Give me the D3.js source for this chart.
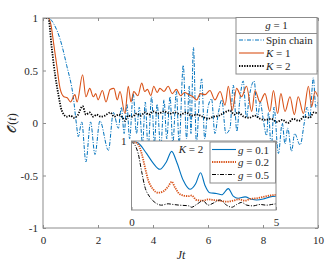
<!DOCTYPE html>
<html>
<head>
<meta charset="utf-8">
<script src="https://cdn.jsdelivr.net/npm/d3@7"></script>
<style>
  body { margin: 0; background: #fff; }
  text { font-family: "Liberation Serif", "DejaVu Serif", serif; fill: #262626; }
</style>
</head>
<body>
<svg id="chart" width="334" height="262"></svg>
<script>
// main panel, g = 1
const xTicks = [0, 2, 4, 6, 8, 10];
const yTicks = [-1, -0.5, 0, 0.5, 1];

const spinT = [0, 0.19, 0.4, 0.62, 0.86, 1.1, 1.22, 1.28, 1.41, 1.56, 1.73, 1.89, 2.07, 2.38, 2.56, 2.74, 2.85, 2.95, 3.05, 3.15,
  3.28, 3.4, 3.5, 3.62, 3.72, 3.82, 3.95, 4.05, 4.15, 4.28, 4.4, 4.5, 4.62, 4.72, 4.85, 4.95, 5.1, 5.22, 5.32, 5.38,
  5.47, 5.58, 5.68, 5.77, 5.88, 6.0, 6.13, 6.25, 6.38, 6.5, 6.65, 6.8, 6.92, 7.05, 7.15, 7.28, 7.4, 7.5, 7.68, 7.8,
  7.9, 8.0, 8.13, 8.2, 8.3, 8.4, 8.56, 8.7, 8.8, 8.9, 9.04, 9.15, 9.35, 9.5, 9.6, 9.7, 9.83, 9.92, 10];
const spinV = [1, 1, 0.94, 0.8, 0.55, 0.25, -0.02, -0.13, 0.01, -0.37, 0.01, -0.3, 0.02, -0.26, 0.1, -0.05, 0.15, -0.1, 0.18, -0.15,
  0.28, -0.1, 0.15, -0.2, 0.2, -0.25, 0.25, -0.2, 0.18, -0.25, 0.22, -0.15, 0.25, -0.2, 0.3, -0.2, 0.55, -0.15, 0.35, -0.1,
  0.72, -0.2, 0.2, 0.42, -0.15, 0.15, 0.23, -0.1, 0.1, 0.22, -0.1, -0.05, 0.36, -0.08, 0.2, 0.4, 0.05, 0.25, 0.4, 0.05,
  0.2, 0.05, -0.12, 0.1, -0.25, 0.15, -0.29, 0, -0.2, -0.05, -0.27, -0.1, -0.21, 0, 0.15, 0.05, 0.43, 0.15, 0.2];

const k1T = [0, 0.19, 0.3, 0.38, 0.5, 0.62, 0.76, 0.88, 1.0, 1.16, 1.24, 1.44, 1.56, 1.7, 1.83, 1.92, 2.0, 2.16, 2.29, 2.44,
  2.58, 2.7, 2.8, 2.98, 3.1, 3.2, 3.3, 3.45, 3.59, 3.7, 3.8, 3.92, 4.03, 4.15, 4.25, 4.4, 4.55, 4.7, 4.85, 5.0,
  5.15, 5.3, 5.45, 5.59, 5.72, 5.89, 6.07, 6.25, 6.44, 6.62, 6.74, 6.88, 7.04, 7.22, 7.4, 7.59, 7.71, 7.89, 8.07, 8.25,
  8.38, 8.53, 8.65, 8.8, 8.98, 9.14, 9.28, 9.47, 9.65, 9.77, 9.89, 10];
const k1V = [1, 1, 0.92, 0.77, 0.55, 0.33, 0.25, 0.24, 0.2, 0.27, 0.2, 0.46, 0.25, 0.33, 0.25, 0.28, 0.22, 0.31, 0.2, 0.32,
  0.33, 0.22, 0.3, 0.09, 0.35, 0.2, 0.3, 0.26, 0.38, 0.3, 0.32, 0.26, 0.35, 0.29, 0.33, 0.3, 0.35, 0.28, 0.32, 0.26,
  0.29, 0.27, 0.25, 0.22, 0.28, 0.27, 0.31, 0.22, 0.3, 0.17, 0.35, 0.12, 0.33, 0.25, 0.35, 0.11, 0.31, 0.2, 0.28, 0.11,
  0.31, 0.09, 0.28, 0.11, 0.25, 0.08, 0.25, 0.09, 0.35, 0.155, 0.3, 0.25];

const k2T = [0, 0.19, 0.32, 0.44, 0.56, 0.68, 0.87, 1.0, 1.12, 1.25, 1.44, 1.56, 1.7, 1.83, 1.95, 2.1, 2.25, 2.44, 2.6, 2.75,
  2.9, 2.98, 3.1, 3.25, 3.4, 3.55, 3.7, 3.85, 4.0, 4.2, 4.4, 4.6, 4.8, 5.0, 5.2, 5.4, 5.6, 5.8, 6.0, 6.2,
  6.4, 6.6, 6.8, 6.95, 7.1, 7.3, 7.5, 7.7, 7.9, 8.1, 8.3, 8.5, 8.7, 8.9, 9.1, 9.3, 9.5, 9.7, 9.85, 10];
const k2V = [1, 1, 0.71, 0.46, 0.27, 0.12, 0.06, 0.07, 0.05, 0.07, 0.16, 0.08, 0.1, 0.06, 0.08, 0.06, 0.07, 0.1, 0.06, 0.08,
  0.05, 0.02, 0.07, 0.06, 0.09, 0.07, 0.1, 0.08, 0.11, 0.09, 0.11, 0.09, 0.1, 0.08, 0.1, 0.07, 0.08, 0.06, 0.04, 0.06,
  0.07, 0.1, 0.12, 0.08, 0.1, 0.06, 0.05, 0.07, 0.04, 0.03, 0.04, 0.01, 0.03, 0, 0.04, 0.02, 0.06, 0.05, 0.1, 0.09];

// inset, K = 2
const g1T = [0, 0.23, 0.52, 0.75, 0.98, 1.21, 1.39, 1.56, 1.79, 2.02, 2.22, 2.39, 2.54, 2.71, 2.94, 3.12, 3.35, 3.52, 3.69, 3.93,
  4.16, 4.33, 4.56, 4.79, 5];
const g1V = [1, 0.97, 0.82, 0.68, 0.59, 0.7, 0.85, 0.7, 0.43, 0.3, 0.38, 0.54, 0.36, 0.25, 0.24, 0.22, 0.31, 0.2, 0.17, 0.19,
  0.155, 0.145, 0.16, 0.19, 0.2];
const g2T = [0, 0.23, 0.35, 0.46, 0.58, 0.75, 0.92, 1.1, 1.27, 1.39, 1.5, 1.67, 1.98, 2.08, 2.25, 2.48, 2.65, 2.83, 3.06, 3.29,
  3.52, 3.7, 3.93, 4.1, 4.33, 4.56, 4.79, 5];
const g2V = [1, 0.95, 0.82, 0.63, 0.43, 0.3, 0.25, 0.27, 0.34, 0.41, 0.33, 0.23, 0.2, 0.21, 0.145, 0.135, 0.155, 0.145, 0.135, 0.12,
  0.135, 0.155, 0.135, 0.16, 0.17, 0.19, 0.21, 0.22];
const g5T = [0, 0.23, 0.35, 0.46, 0.63, 0.81, 1.04, 1.27, 1.44, 1.67, 1.98, 2.08, 2.25, 2.48, 2.65, 2.83, 3.06, 3.29, 3.47, 3.64,
  3.81, 3.99, 4.21, 4.45, 4.68, 4.85, 5];
const g5V = [1, 0.82, 0.56, 0.34, 0.19, 0.11, 0.07, 0.09, 0.08, 0.07, 0.06, 0.04, 0.08, 0.135, 0.07, 0.1, 0.145, 0.07, 0.04, 0.08,
  0.11, 0.07, 0.06, 0.08, 0.07, 0.08, 0.09];

const mainSeries = [
  { name: 'Spin chain', t: spinT, v: spinV, color: '#0072BD', width: 1, dash: '4,1.5,1,1.5' },
  { name: 'K = 1', t: k1T, v: k1V, color: '#D95319', width: 1.1, dash: null },
  { name: 'K = 2', t: k2T, v: k2V, color: '#000', width: 1.8, dash: '1.3,1.3' }
];
const insetSeries = [
  { name: 'g = 0.1', t: g1T, v: g1V, color: '#0072BD', width: 1.1, dash: null },
  { name: 'g = 0.2', t: g2T, v: g2V, color: '#D95319', width: 1.8, dash: '1.3,1' },
  { name: 'g = 0.5', t: g5T, v: g5V, color: '#000', width: 1, dash: '4,1.5,1,1.5' }
];

const boxColor = '#8c8c8c';
const svg = d3.select('#chart');

const x = d3.scaleLinear().domain([0, 10]).range([43, 318]);
const y = d3.scaleLinear().domain([-1, 1]).range([228, 18]);

svg.append('clipPath').attr('id', 'clipMain')
  .append('rect').attr('x', 43).attr('y', 18).attr('width', 275).attr('height', 210);

function drawAxes(g, xs, ys, xt, yt, fmtX, fmtY) {
  let x0 = xs.range()[0], x1 = xs.range()[1], y0 = ys.range()[0], y1 = ys.range()[1];
  g.append('g').attr('transform', 'translate(0,' + y0 + ')')
    .call(d3.axisBottom(xs).tickValues(xt).tickSize(-3).tickPadding(8).tickFormat(fmtX));
  g.append('g').attr('transform', 'translate(0,' + y1 + ')')
    .call(d3.axisTop(xs).tickValues(xt).tickSize(-3).tickFormat(''));
  g.append('g').attr('transform', 'translate(' + x0 + ',0)')
    .call(d3.axisLeft(ys).tickValues(yt).tickSize(-3).tickPadding(5).tickFormat(fmtY));
  g.append('g').attr('transform', 'translate(' + x1 + ',0)')
    .call(d3.axisRight(ys).tickValues(yt).tickSize(-3).tickFormat(''));
  g.selectAll('.domain').remove();
  g.selectAll('.tick line').attr('stroke', boxColor);
  g.selectAll('.tick text').attr('font-size', 11).attr('fill', '#262626')
    .style('font-family', '"Liberation Serif", serif');
  g.append('rect').attr('x', x0).attr('y', y1).attr('width', x1 - x0).attr('height', y0 - y1)
    .attr('fill', 'none').attr('stroke', boxColor).attr('stroke-width', 1);
}

function drawLines(g, xs, ys, series, clip) {
  series.forEach(function (s) {
    let pts = s.t.map(function (t, i) { return [t, s.v[i]]; });
    let line = d3.line().curve(d3.curveMonotoneX)
      .x(function (d) { return xs(d[0]); })
      .y(function (d) { return ys(d[1]); });
    g.append('path').datum(pts)
      .attr('d', line)
      .attr('fill', 'none')
      .attr('stroke', s.color)
      .attr('stroke-width', s.width)
      .attr('stroke-dasharray', s.dash)
      .attr('clip-path', clip);
  });
}

function legendLabel(textSel, s) {
  // italic variable, upright rest
  let parts = s.split(' = ');
  if (parts.length === 2) {
    textSel.append('tspan').attr('font-style', 'italic').text(parts[0]);
    textSel.append('tspan').text(' = ' + parts[1]);
  } else {
    textSel.text(s);
  }
}

function drawLegend(g, series, x0, y0, w, h, rows, sampleX, sampleW, textX) {
  g.append('rect').attr('x', x0).attr('y', y0).attr('width', w).attr('height', h)
    .attr('fill', '#fff').attr('stroke', boxColor).attr('stroke-width', 1);
  series.forEach(function (s, i) {
    g.append('line')
      .attr('x1', sampleX).attr('x2', sampleX + sampleW)
      .attr('y1', rows[i]).attr('y2', rows[i])
      .attr('stroke', s.color).attr('stroke-width', s.width)
      .attr('stroke-dasharray', s.dash);
    let t = g.append('text').attr('x', textX).attr('y', rows[i] + 4).attr('font-size', 11);
    legendLabel(t, s.name);
  });
}

// main plot
let mainG = svg.append('g');
drawLines(mainG, x, y, mainSeries, 'url(#clipMain)');
drawAxes(mainG, x, y, xTicks, yTicks, function (d) { return String(d); }, function (d) { return String(d); });

// main legend with title
let legG = svg.append('g');
drawLegend(legG, mainSeries, 236, 17.5, 81, 56.5, [40, 53, 66], 239, 25, 266);
legG.append('line').attr('x1', 236).attr('x2', 317).attr('y1', 33.5).attr('y2', 33.5)
  .attr('stroke', boxColor).attr('stroke-width', 1);
let title = legG.append('text').attr('x', 276.5).attr('y', 29).attr('font-size', 11).attr('text-anchor', 'middle');
legendLabel(title, 'g = 1');

// axis labels
svg.append('text').attr('x', 181).attr('y', 259).attr('font-size', 12)
  .attr('text-anchor', 'middle').attr('font-style', 'italic').text('Jt');
let yl = svg.append('text').attr('transform', 'translate(16,123) rotate(-90)')
  .attr('font-size', 12).attr('text-anchor', 'middle');
yl.append('tspan').text('\u{1D4AA}');
yl.append('tspan').text('(');
yl.append('tspan').attr('font-style', 'italic').text('t');
yl.append('tspan').text(')');

// inset
const xi = d3.scaleLinear().domain([0, 5]).range([131.5, 276]);
const yi = d3.scaleLinear().domain([0, 1]).range([210, 141]);
svg.append('clipPath').attr('id', 'clipInset')
  .append('rect').attr('x', 131.5).attr('y', 141).attr('width', 144.5).attr('height', 69);
let insetG = svg.append('g');
insetG.append('rect').attr('x', 131.5).attr('y', 141).attr('width', 144.5).attr('height', 69).attr('fill', '#fff');
drawLines(insetG, xi, yi, insetSeries, 'url(#clipInset)');
drawAxes(insetG, xi, yi, [0, 5], [1], function (d) { return String(d); }, function (d) { return String(d); });
let kt = insetG.append('text').attr('x', 191).attr('y', 153).attr('font-size', 11).attr('text-anchor', 'middle');
legendLabel(kt, 'K = 2');
drawLegend(insetG, insetSeries, 210, 142, 65.5, 41, [149.5, 162, 174.5], 212, 24, 238);
</script>
</body>
</html>
